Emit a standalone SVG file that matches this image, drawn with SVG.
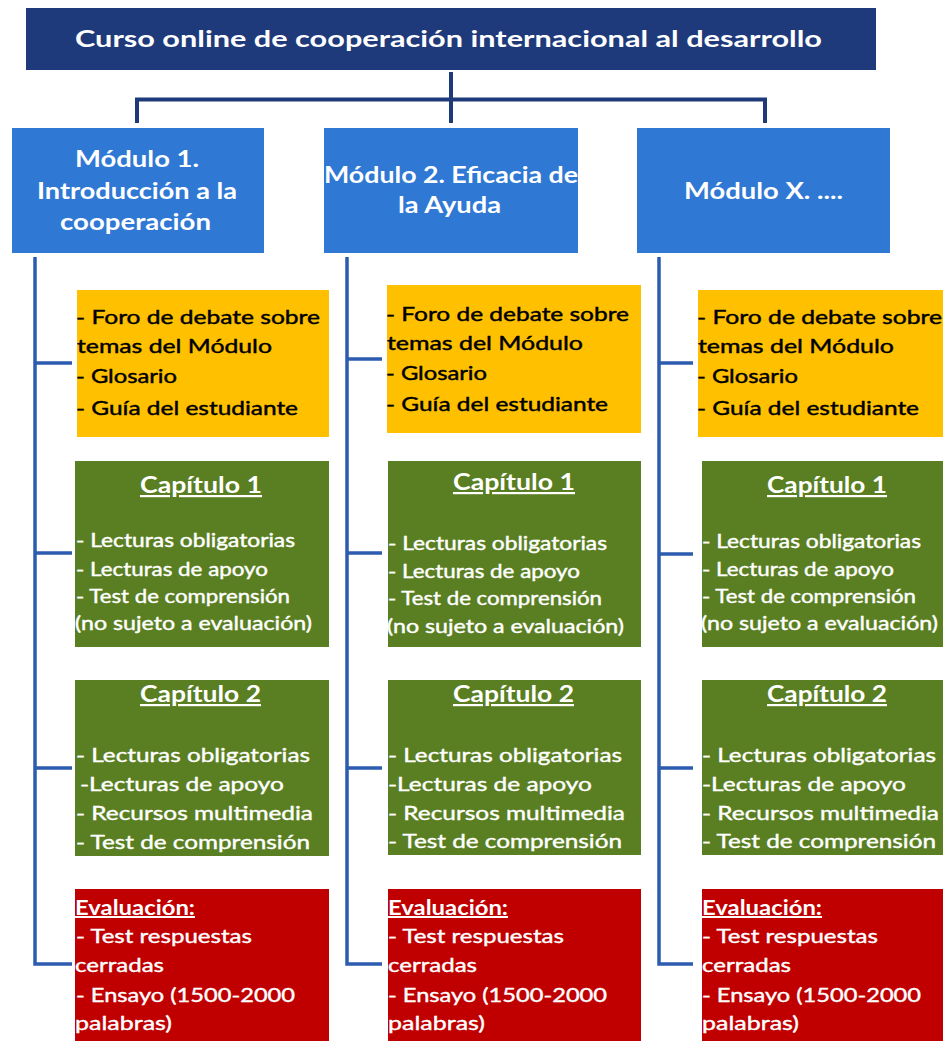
<svg xmlns="http://www.w3.org/2000/svg" width="943" height="1041" viewBox="0 0 943 1041">
<style>
  .t { font-family: Lato, "Liberation Sans", sans-serif; }
  .title { font-size: 22px; font-weight: bold; fill: #ffffff; }
  .mod { font-size: 23px; font-weight: bold; fill: #ffffff; }
  .ob { font-size: 20px; fill: #000000; stroke: #000000; stroke-width: 0.45; }
  .wb { font-size: 20px; fill: #ffffff; stroke: #ffffff; stroke-width: 0.4; }
  .ws { font-size: 18.5px; fill: #ffffff; stroke: #ffffff; stroke-width: 0.4; }
  .hd { font-size: 22px; font-weight: bold; fill: #ffffff; text-decoration: underline; }
  .ev { font-size: 20px; font-weight: bold; fill: #ffffff; text-decoration: underline; }
  .navy { fill: #1f3a7a; }
  .blue { fill: #2f78d4; }
  .orange { fill: #ffc000; }
  .green { fill: #5a7f22; }
  .red { fill: #c00000; }
  .top { fill: none; stroke: #1f3a7a; stroke-width: 4; }
  .col { fill: none; stroke: #2d5bb0; stroke-width: 3.5; }
</style>

<g id="connectors">
  <path class="top" d="M451,72 V123 M137,123 V99.5 H765 V123"/>
  <path class="col" d="M35,257 V964 H72 M35,363 H72 M35,553 H72 M35,768 H72"/>
  <path class="col" d="M347,257 V964 H382 M347,359 H382 M347,553 H382 M347,768 H382"/>
  <path class="col" d="M659,257 V964 H693 M659,363 H693 M659,554 H693 M659,768 H693"/>
</g>

<g id="title">
  <rect class="navy" x="26" y="8" width="850" height="62"/>
  <text class="t title" x="75" y="47" textLength="747" lengthAdjust="spacingAndGlyphs">Curso online de cooperación internacional al desarrollo</text>
</g>

<g id="mod1">
  <rect class="blue" x="12" y="128" width="252" height="125"/>
  <text class="t mod" x="75" y="167" textLength="124" lengthAdjust="spacingAndGlyphs">Módulo 1.</text>
  <text class="t mod" x="37" y="199" textLength="200" lengthAdjust="spacingAndGlyphs">Introducción a la</text>
  <text class="t mod" x="60" y="230" textLength="151" lengthAdjust="spacingAndGlyphs">cooperación</text>
</g>

<g id="mod2">
  <rect class="blue" x="324" y="128" width="254" height="125"/>
  <text class="t mod" x="324" y="183" textLength="254" lengthAdjust="spacingAndGlyphs">Módulo 2. Eficacia de</text>
  <text class="t mod" x="398" y="213" textLength="103" lengthAdjust="spacingAndGlyphs">la Ayuda</text>
</g>

<g id="modx">
  <rect class="blue" x="637" y="128" width="253" height="125"/>
  <text class="t mod" x="684" y="199" textLength="159" lengthAdjust="spacingAndGlyphs">Módulo X. ....</text>
</g>

<!-- Column 1 -->
<g id="c1-info">
  <rect class="orange" x="77" y="290" width="252" height="147"/>
  <text class="t ob" x="76" y="324" textLength="244" lengthAdjust="spacingAndGlyphs">- Foro de debate sobre</text>
  <text class="t ob" x="77" y="353" textLength="195" lengthAdjust="spacingAndGlyphs">temas del Módulo</text>
  <text class="t ob" x="76" y="383" textLength="101" lengthAdjust="spacingAndGlyphs">- Glosario</text>
  <text class="t ob" x="76" y="415" textLength="222" lengthAdjust="spacingAndGlyphs">- Guía del estudiante</text>
</g>
<g id="c1-cap1">
  <rect class="green" x="75" y="461" width="254" height="186"/>
  <text class="t hd" x="140" y="493" textLength="122" lengthAdjust="spacingAndGlyphs">Capítulo 1</text>
  <text class="t ws" x="76" y="547" textLength="219" lengthAdjust="spacingAndGlyphs">- Lecturas obligatorias</text>
  <text class="t ws" x="76" y="576" textLength="192" lengthAdjust="spacingAndGlyphs">- Lecturas de apoyo</text>
  <text class="t ws" x="76" y="603" textLength="214" lengthAdjust="spacingAndGlyphs">- Test de comprensión</text>
  <text class="t ws" x="75" y="630" textLength="237" lengthAdjust="spacingAndGlyphs">(no sujeto a evaluación)</text>
</g>
<g id="c1-cap2">
  <rect class="green" x="75" y="680" width="254" height="176"/>
  <text class="t hd" x="140" y="702" textLength="121" lengthAdjust="spacingAndGlyphs">Capítulo 2</text>
  <text class="t wb" x="76" y="762" textLength="234" lengthAdjust="spacingAndGlyphs">- Lecturas obligatorias</text>
  <text class="t wb" x="80" y="791" textLength="204" lengthAdjust="spacingAndGlyphs">-Lecturas de apoyo</text>
  <text class="t wb" x="76" y="820" textLength="237" lengthAdjust="spacingAndGlyphs">- Recursos multimedia</text>
  <text class="t wb" x="76" y="849" textLength="234" lengthAdjust="spacingAndGlyphs">- Test de comprensión</text>
</g>
<g id="c1-eval">
  <rect class="red" x="75" y="889" width="254" height="152"/>
  <text class="t ev" x="75" y="915" textLength="120" lengthAdjust="spacingAndGlyphs">Evaluación:</text>
  <text class="t wb" x="76" y="943" textLength="176" lengthAdjust="spacingAndGlyphs">- Test respuestas</text>
  <text class="t wb" x="75" y="972" textLength="89" lengthAdjust="spacingAndGlyphs">cerradas</text>
  <text class="t wb" x="76" y="1002" textLength="219" lengthAdjust="spacingAndGlyphs">- Ensayo (1500-2000</text>
  <text class="t wb" x="75" y="1030" textLength="97" lengthAdjust="spacingAndGlyphs">palabras)</text>
</g>

<!-- Column 2 -->
<g id="c2-info">
  <rect class="orange" x="387" y="285" width="254" height="148"/>
  <text class="t ob" x="386" y="321" textLength="243" lengthAdjust="spacingAndGlyphs">- Foro de debate sobre</text>
  <text class="t ob" x="387" y="350" textLength="196" lengthAdjust="spacingAndGlyphs">temas del Módulo</text>
  <text class="t ob" x="386" y="380" textLength="101" lengthAdjust="spacingAndGlyphs">- Glosario</text>
  <text class="t ob" x="386" y="411" textLength="222" lengthAdjust="spacingAndGlyphs">- Guía del estudiante</text>
</g>
<g id="c2-cap1">
  <rect class="green" x="388" y="461" width="253" height="186"/>
  <text class="t hd" x="453" y="490" textLength="122" lengthAdjust="spacingAndGlyphs">Capítulo 1</text>
  <text class="t ws" x="388" y="550" textLength="219" lengthAdjust="spacingAndGlyphs">- Lecturas obligatorias</text>
  <text class="t ws" x="388" y="578" textLength="192" lengthAdjust="spacingAndGlyphs">- Lecturas de apoyo</text>
  <text class="t ws" x="388" y="605" textLength="214" lengthAdjust="spacingAndGlyphs">- Test de comprensión</text>
  <text class="t ws" x="387" y="633" textLength="237" lengthAdjust="spacingAndGlyphs">(no sujeto a evaluación)</text>
</g>
<g id="c2-cap2">
  <rect class="green" x="388" y="680" width="253" height="175"/>
  <text class="t hd" x="453" y="702" textLength="121" lengthAdjust="spacingAndGlyphs">Capítulo 2</text>
  <text class="t wb" x="388" y="762" textLength="234" lengthAdjust="spacingAndGlyphs">- Lecturas obligatorias</text>
  <text class="t wb" x="388" y="791" textLength="204" lengthAdjust="spacingAndGlyphs">-Lecturas de apoyo</text>
  <text class="t wb" x="388" y="820" textLength="237" lengthAdjust="spacingAndGlyphs">- Recursos multimedia</text>
  <text class="t wb" x="388" y="848" textLength="234" lengthAdjust="spacingAndGlyphs">- Test de comprensión</text>
</g>
<g id="c2-eval">
  <rect class="red" x="388" y="889" width="253" height="152"/>
  <text class="t ev" x="388" y="915" textLength="120" lengthAdjust="spacingAndGlyphs">Evaluación:</text>
  <text class="t wb" x="388" y="943" textLength="176" lengthAdjust="spacingAndGlyphs">- Test respuestas</text>
  <text class="t wb" x="388" y="972" textLength="89" lengthAdjust="spacingAndGlyphs">cerradas</text>
  <text class="t wb" x="388" y="1002" textLength="219" lengthAdjust="spacingAndGlyphs">- Ensayo (1500-2000</text>
  <text class="t wb" x="388" y="1030" textLength="97" lengthAdjust="spacingAndGlyphs">palabras)</text>
</g>

<!-- Column 3 -->
<g id="c3-info">
  <rect class="orange" x="698" y="290" width="252" height="147"/>
  <text class="t ob" x="697" y="324" textLength="245" lengthAdjust="spacingAndGlyphs">- Foro de debate sobre</text>
  <text class="t ob" x="698" y="353" textLength="196" lengthAdjust="spacingAndGlyphs">temas del Módulo</text>
  <text class="t ob" x="697" y="383" textLength="101" lengthAdjust="spacingAndGlyphs">- Glosario</text>
  <text class="t ob" x="697" y="415" textLength="222" lengthAdjust="spacingAndGlyphs">- Guía del estudiante</text>
</g>
<g id="c3-cap1">
  <rect class="green" x="702" y="461" width="252" height="186"/>
  <text class="t hd" x="767" y="493" textLength="120" lengthAdjust="spacingAndGlyphs">Capítulo 1</text>
  <text class="t ws" x="702" y="548" textLength="219" lengthAdjust="spacingAndGlyphs">- Lecturas obligatorias</text>
  <text class="t ws" x="702" y="576" textLength="192" lengthAdjust="spacingAndGlyphs">- Lecturas de apoyo</text>
  <text class="t ws" x="702" y="603" textLength="214" lengthAdjust="spacingAndGlyphs">- Test de comprensión</text>
  <text class="t ws" x="701" y="630" textLength="237" lengthAdjust="spacingAndGlyphs">(no sujeto a evaluación)</text>
</g>
<g id="c3-cap2">
  <rect class="green" x="702" y="680" width="252" height="175"/>
  <text class="t hd" x="767" y="702" textLength="120" lengthAdjust="spacingAndGlyphs">Capítulo 2</text>
  <text class="t wb" x="702" y="762" textLength="234" lengthAdjust="spacingAndGlyphs">- Lecturas obligatorias</text>
  <text class="t wb" x="702" y="791" textLength="204" lengthAdjust="spacingAndGlyphs">-Lecturas de apoyo</text>
  <text class="t wb" x="702" y="820" textLength="237" lengthAdjust="spacingAndGlyphs">- Recursos multimedia</text>
  <text class="t wb" x="702" y="848" textLength="234" lengthAdjust="spacingAndGlyphs">- Test de comprensión</text>
</g>
<g id="c3-eval">
  <rect class="red" x="702" y="889" width="252" height="152"/>
  <text class="t ev" x="702" y="915" textLength="120" lengthAdjust="spacingAndGlyphs">Evaluación:</text>
  <text class="t wb" x="702" y="943" textLength="176" lengthAdjust="spacingAndGlyphs">- Test respuestas</text>
  <text class="t wb" x="702" y="972" textLength="89" lengthAdjust="spacingAndGlyphs">cerradas</text>
  <text class="t wb" x="702" y="1002" textLength="219" lengthAdjust="spacingAndGlyphs">- Ensayo (1500-2000</text>
  <text class="t wb" x="702" y="1030" textLength="97" lengthAdjust="spacingAndGlyphs">palabras)</text>
</g>
</svg>
